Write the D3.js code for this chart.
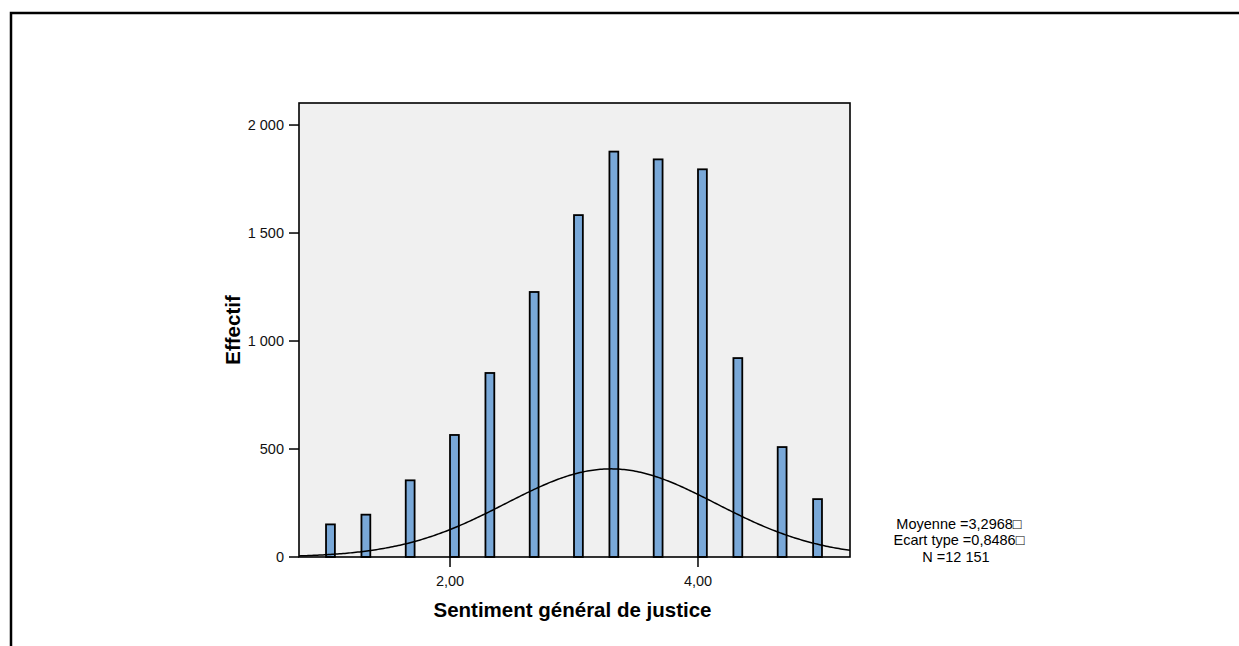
<!DOCTYPE html>
<html>
<head>
<meta charset="utf-8">
<script src="https://cdn.jsdelivr.net/npm/d3@7"></script>
<style>
  body { margin: 0; background: #fff; }
  svg { display: block; font-family: 'Liberation Sans', Arial, Helvetica, sans-serif; }
</style>
</head>
<body>
<svg id="chart" width="1239" height="646"></svg>
<script>
// data

const VALUES = [1.00, 1.33, 1.67, 2.00, 2.33, 2.67, 3.00, 3.33, 3.67, 4.00, 4.33, 4.67, 5.00]
const COUNTS = [151, 196, 355, 565, 852, 1227, 1583, 1877, 1841, 1795, 921, 509, 268]
const Y_TICKS = [0, 500, 1000, 1500, 2000]
const X_TICKS = [2, 4]
const STATS = ['Moyenne =3,2968\u25A1', 'Ecart type =0,8486\u25A1', 'N =12 151']
const MEAN = 3.2968
const SD = 0.8486
const N = 12151
const BIN_COUNT = 56            // SPSS bins over [1, 5]

const PLOT = { left: 299, right: 850, top: 103, bottom: 557 }

let fr = d3.formatLocale({ decimal: ',', thousands: ' ', grouping: [3], currency: ['', ''] })
let y_fmt = fr.format(',d')
let x_fmt = fr.format('.2f')

let svg = d3.select('#chart')

let x = d3.scaleLinear().domain([0.782, 5.226]).range([PLOT.left, PLOT.right])
let y = d3.scaleLinear().domain([0, 2102]).range([PLOT.bottom, PLOT.top])

let binw = 4 / BIN_COUNT
let binOf = (v) => Math.min(BIN_COUNT - 1, Math.floor((v - 1) / binw + 1e-6))

// outer frame (runs off the right and bottom of the page)
svg.append('rect')
  .attr('x', 11).attr('y', 13).attr('width', 1400).attr('height', 800)
  .attr('fill', 'none').attr('stroke', '#000').attr('stroke-width', 2.5)

// plot background
svg.append('rect')
  .attr('x', PLOT.left).attr('y', PLOT.top)
  .attr('width', PLOT.right - PLOT.left).attr('height', PLOT.bottom - PLOT.top)
  .attr('fill', '#f0f0f0')

svg.append('clipPath').attr('id', 'clip')
  .append('rect')
  .attr('x', PLOT.left).attr('y', PLOT.top)
  .attr('width', PLOT.right - PLOT.left).attr('height', PLOT.bottom - PLOT.top)

// bars
svg.append('g')
  .selectAll('rect')
  .data(VALUES.map((v, i) => ({ v: v, n: COUNTS[i] })))
  .join('rect')
  .attr('x', (d) => x(1 + binOf(d.v) * binw))
  .attr('width', (d) => x(1 + (binOf(d.v) + 1) * binw) - x(1 + binOf(d.v) * binw))
  .attr('y', (d) => y(d.n))
  .attr('height', (d) => y(0) - y(d.n))
  .attr('fill', '#79a8d8')
  .attr('stroke', '#000')
  .attr('stroke-width', 1.8)

// normal curve from the reported statistics
let dens = (t) => N * binw / (SD * Math.sqrt(2 * Math.PI)) * Math.exp(-0.5 * Math.pow((t - MEAN) / SD, 2))
let xs = d3.range(0, 301).map((i) => x.domain()[0] + (x.domain()[1] - x.domain()[0]) * i / 300)
svg.append('path')
  .attr('clip-path', 'url(#clip)')
  .attr('d', d3.line().x((t) => x(t)).y((t) => y(dens(t)))(xs))
  .attr('fill', 'none')
  .attr('stroke', '#000')
  .attr('stroke-width', 1.5)

// plot border
svg.append('rect')
  .attr('x', PLOT.left).attr('y', PLOT.top)
  .attr('width', PLOT.right - PLOT.left).attr('height', PLOT.bottom - PLOT.top)
  .attr('fill', 'none').attr('stroke', '#000').attr('stroke-width', 1.6)

// y axis
let yg = svg.append('g').attr('font-size', 14.5).attr('text-anchor', 'end')
Y_TICKS.forEach((d) => {
  let g = yg.append('g').attr('transform', 'translate(0,' + y(d) + ')')
  g.append('line').attr('x1', PLOT.left - 10).attr('x2', PLOT.left).attr('stroke', '#000').attr('stroke-width', 1.5)
  g.append('text').attr('x', PLOT.left - 15).attr('dy', '0.36em').attr('fill', '#111').text(y_fmt(d))
})

// x axis
let xg = svg.append('g').attr('font-size', 14.5).attr('text-anchor', 'middle')
X_TICKS.forEach((d) => {
  let g = xg.append('g').attr('transform', 'translate(' + x(d) + ',0)')
  g.append('line').attr('y1', PLOT.bottom).attr('y2', PLOT.bottom + 10).attr('stroke', '#000').attr('stroke-width', 1.5)
  g.append('text').attr('y', PLOT.bottom + 29).attr('fill', '#111').text(x_fmt(d))
})

// axis titles
svg.append('text')
  .attr('x', (PLOT.left + PLOT.right) / 2 - 2).attr('y', 617)
  .attr('text-anchor', 'middle').attr('font-size', 20.5).attr('font-weight', 'bold')
  .text('Sentiment général de justice')

svg.append('text')
  .attr('transform', 'translate(240,' + (PLOT.top + PLOT.bottom) / 2 + ') rotate(-90)')
  .attr('text-anchor', 'middle').attr('font-size', 20.5).attr('font-weight', 'bold')
  .text('Effectif')

// statistics legend
svg.append('g').attr('font-size', 14.5).attr('text-anchor', 'middle')
  .selectAll('text')
  .data(STATS)
  .join('text')
  .attr('x', (d, i) => i < 2 ? 959 : 956)
  .attr('y', (d, i) => 529 + i * 16.3)
  .text((d) => d)
</script>
</body>
</html>
